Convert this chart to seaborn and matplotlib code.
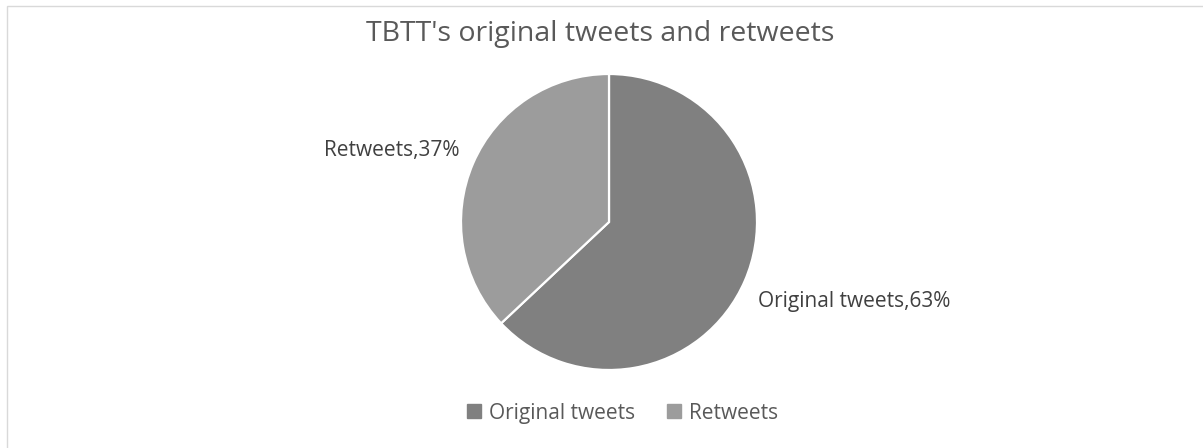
import matplotlib
matplotlib.use("Agg")
import numpy as np
import matplotlib.pyplot as plt
from matplotlib.patches import Rectangle
from matplotlib.lines import Line2D
from matplotlib.transforms import offset_copy
import seaborn as sns

categories = ["Original tweets", "Retweets"]
shares = [63, 37]
colors = ["#808080", "#9c9c9c"]
title = "TBTT's original tweets and retweets"

sns.set_theme(style="white")
plt.rcParams["font.family"] = ["Open Sans", "DejaVu Sans"]

W, H = 1203, 448
fig = plt.figure(figsize=(W / 100, H / 100), dpi=100)
fig.patch.set_facecolor("white")

# chart area frame
fig.patches.append(Rectangle((7 / W, -0.1), 1.2, (H - 6) / H + 0.1,
                             transform=fig.transFigure, fill=False,
                             edgecolor="#d9d9d9", linewidth=1.0))

r = 148
cx, cy = 609, H - 222
ax = fig.add_axes([(cx - r) / W, (cy - r) / H, 2 * r / W, 2 * r / H])

wedges, _ = ax.pie(shares, colors=colors, startangle=90, counterclock=False,
                   wedgeprops=dict(edgecolor="white", linewidth=1.6))

# data labels: the label corner nearest the pie sits on the slice's mid-angle ray
label_tf = offset_copy(ax.transData, fig=fig, x=0, y=-4, units="dots")
for w, c, v in zip(wedges, categories, shares):
    ang = np.deg2rad((w.theta1 + w.theta2) / 2)
    x, y = 1.1 * np.cos(ang), 1.1 * np.sin(ang)
    ax.text(x, y, f"{c},{v}%", ha="right" if x < 0 else "left",
            va="bottom" if y > 0 else "top", fontsize=15, color="#404040",
            transform=label_tf)

ax.set_xlim(-1, 1)
ax.set_ylim(-1, 1)
ax.set_aspect("equal")
ax.axis("off")

fig.text(600 / W, 1 - 34 / H, title, ha="center", va="center",
         fontsize=20.5, color="#595959")

handles = [Line2D([], [], linestyle="none", marker="s", markersize=9.4,
                  markerfacecolor=c, markeredgecolor=c) for c in colors]
fig.legend(handles, categories, loc="center", bbox_to_anchor=(622 / W, 1 - 413 / H),
           ncol=2, frameon=False, fontsize=15, handlelength=0.8,
           handletextpad=0.3, columnspacing=1.5, labelcolor="#595959")

fig.savefig("out.png", dpi=100, facecolor="white")
